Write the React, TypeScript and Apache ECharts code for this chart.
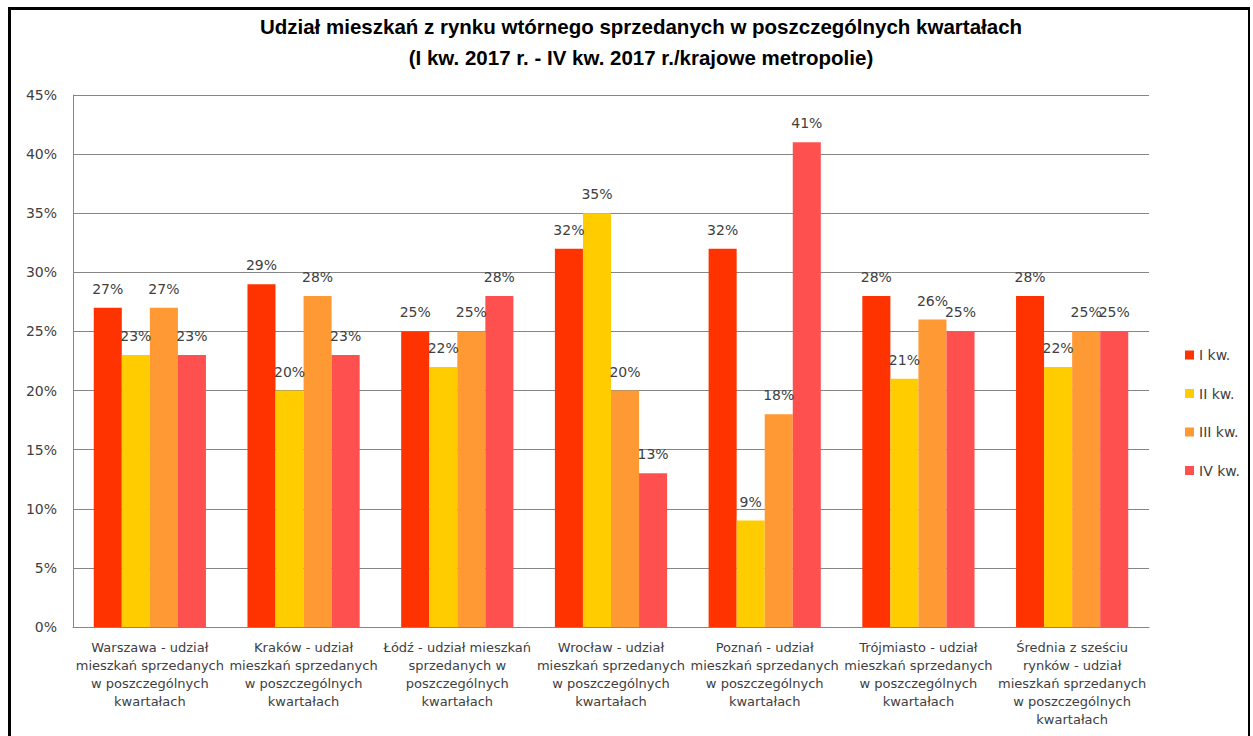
import React, { useEffect, useRef } from "react";
import * as echarts from "echarts";

const categories = [
  "Warszawa - udział\nmieszkań sprzedanych\nw poszczególnych\nkwartałach",
  "Kraków - udział\nmieszkań sprzedanych\nw poszczególnych\nkwartałach",
  "Łódź - udział mieszkań\nsprzedanych w\nposzczególnych\nkwartałach",
  "Wrocław - udział\nmieszkań sprzedanych\nw poszczególnych\nkwartałach",
  "Poznań - udział\nmieszkań sprzedanych\nw poszczególnych\nkwartałach",
  "Trójmiasto - udział\nmieszkań sprzedanych\nw poszczególnych\nkwartałach",
  "Średnia z sześciu\nrynków - udział\nmieszkań sprzedanych\nw poszczególnych\nkwartałach",
];

const seriesNames = ["I kw.", "II kw.", "III kw.", "IV kw."];
const q1 = [27, 29, 25, 32, 32, 28, 28];
const q2 = [23, 20, 22, 35, 9, 21, 22];
const q3 = [27, 28, 25, 20, 18, 26, 25];
const q4 = [23, 23, 28, 13, 41, 25, 25];
const seriesValues = [q1, q2, q3, q4];
const colors = ["#FF3300", "#FFCC00", "#FF9933", "#FF5050"];

const titleLines = [
  "Udział mieszkań z rynku wtórnego sprzedanych w poszczególnych kwartałach",
  "(I kw. 2017 r. - IV kw. 2017 r./krajowe metropolie)",
];

export default function App() {
  const ref = useRef<HTMLDivElement>(null);
  useEffect(() => {
    if (!ref.current) return;
    const chart = echarts.init(ref.current, null, { renderer: "svg" });
    chart.setOption({
      animation: false,
      backgroundColor: "#ffffff",
      title: {
        text: titleLines.join("\n"),
        left: 636,
        textAlign: "center",
        top: 6,
        textStyle: {
          fontFamily: "Liberation Sans",
          fontWeight: "bold",
          fontSize: 20.5,
          lineHeight: 31,
          color: "#000000",
        },
      },
      legend: {
        orient: "vertical",
        left: 1180,
        top: 343,
        itemWidth: 9,
        itemHeight: 9,
        itemGap: 24.5,
        icon: "rect",
        data: seriesNames,
        textStyle: {
          fontFamily: "DejaVu Sans",
          fontSize: 14,
          color: "#404040",
          padding: [0, 0, 0, 0],
        },
      },
      grid: { left: 73, right: 104, top: 95, bottom: 109, containLabel: false },
      xAxis: {
        type: "category",
        data: categories,
        axisLine: { show: true, lineStyle: { color: "#868686", width: 1 } },
        axisTick: { show: false },
        axisLabel: {
          interval: 0,
          margin: 11,
          fontFamily: "DejaVu Sans",
          fontSize: 13,
          lineHeight: 18,
          color: "#404040",
        },
      },
      yAxis: {
        type: "value",
        min: 0,
        max: 45,
        interval: 5,
        axisLine: { show: true, lineStyle: { color: "#868686", width: 1 } },
        axisTick: { show: false },
        splitLine: { show: true, lineStyle: { color: "#868686", width: 1 } },
        axisLabel: {
          formatter: "{value}%",
          margin: 16,
          fontFamily: "DejaVu Sans",
          fontSize: 14,
          color: "#404040",
        },
      },
      series: seriesNames.map((name, i) => ({
        name,
        type: "bar",
        data: seriesValues[i],
        barGap: "0%",
        barCategoryGap: "27%",
        itemStyle: { color: colors[i] },
        label: {
          show: true,
          position: "top",
          distance: 12,
          formatter: "{c}%",
          fontFamily: "DejaVu Sans",
          fontSize: 14,
          color: "#404040",
        },
      })),
    });
    return () => chart.dispose();
  }, []);
  return (
    <div style={{ position: "fixed", left: 0, top: 0, width: 1253, height: 736, background: "#fff" }}>
      <div ref={ref} style={{ position: "absolute", left: 0, top: 0, width: 1253, height: 736 }} />
      <div
        style={{
          position: "absolute",
          left: 8,
          top: 7,
          width: 1237,
          height: 760,
          borderLeft: "3px solid #000",
          borderTop: "3px solid #000",
          borderRight: "2px solid #000",
          pointerEvents: "none",
        }}
      />
    </div>
  );
}
